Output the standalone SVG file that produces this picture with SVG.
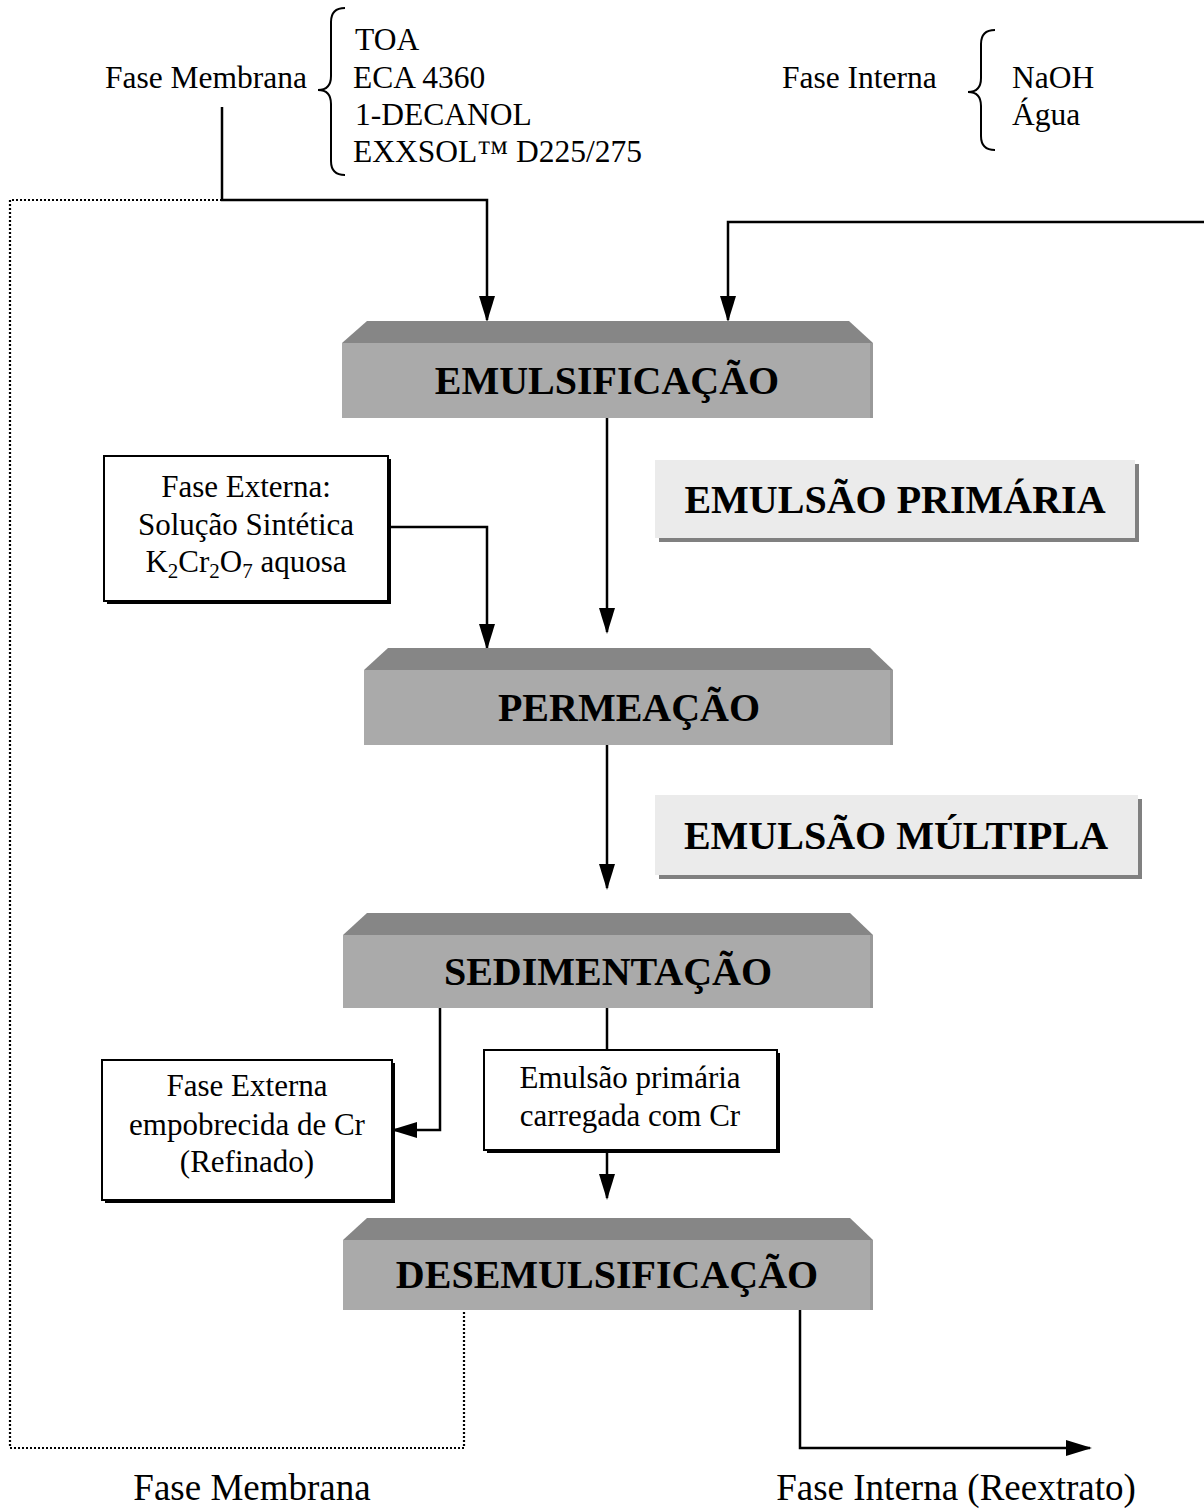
<svg xmlns="http://www.w3.org/2000/svg" width="1204" height="1511" viewBox="0 0 1204 1511">
<defs>
<style>
.t{font-family:"Liberation Serif","Times New Roman",serif;font-size:31.5px;fill:#000}
.tc{font-family:"Liberation Serif","Times New Roman",serif;font-size:31px;fill:#000;text-anchor:middle}
.tb{font-family:"Liberation Serif","Times New Roman",serif;font-size:40px;font-weight:bold;fill:#000;text-anchor:middle}
.tl{font-family:"Liberation Serif","Times New Roman",serif;font-size:37px;fill:#000;text-anchor:middle}
.ln{fill:none;stroke:#000;stroke-width:2.5}
.dot{fill:none;stroke:#000;stroke-width:2.2;stroke-dasharray:2,2}
.br{fill:none;stroke:#000;stroke-width:2}
.top{fill:#868686}
.front{fill:#aaaaaa}
.edge{fill:#999999}
.lab{fill:#ebebeb}
.shd{fill:#808080}
.box{fill:#fff;stroke:#000;stroke-width:2}
</style>
<marker id="ah" markerWidth="26" markerHeight="16" refX="24" refY="8" orient="auto" markerUnits="userSpaceOnUse">
<path d="M0,0 L26,8 L0,16 z" fill="#000"/>
</marker>
</defs>
<rect width="1204" height="1511" fill="#fff"/>

<g id="fase-membrana-top">
<text class="t" x="105" y="88">Fase Membrana</text>
<path class="br" d="M345,8 Q331,8 331,22 L331,76 Q331,90 318,90 Q331,90 331,104 L331,161 Q331,175 345,175"/>
<text class="t" x="355" y="50">TOA</text>
<text class="t" x="353" y="88">ECA 4360</text>
<text class="t" x="355" y="125">1-DECANOL</text>
<text class="t" x="353" y="162">EXXSOL™ D225/275</text>
</g>

<g id="fase-interna-top">
<text class="t" x="782" y="88">Fase Interna</text>
<path class="br" d="M995,30 Q981,30 981,44 L981,78 Q981,92 968,92 Q981,92 981,106 L981,136 Q981,150 995,150"/>
<text class="t" x="1012" y="88">NaOH</text>
<text class="t" x="1012" y="125">Água</text>
</g>

<g id="connectors">
<path class="ln" d="M222,107 L222,200 L487,200 L487,320" marker-end="url(#ah)"/>
<path class="dot" d="M222,200 L10,200 L10,1448 L464,1448 L464,1310"/>
<path class="ln" d="M1204,222 L728,222 L728,320" marker-end="url(#ah)"/>
<path class="ln" d="M607,418 L607,632" marker-end="url(#ah)"/>
<path class="ln" d="M388,527 L487,527 L487,648" marker-end="url(#ah)"/>
<path class="ln" d="M607,745 L607,888" marker-end="url(#ah)"/>
<path class="ln" d="M440,1008 L440,1130 L393,1130" marker-end="url(#ah)"/>
<path class="ln" d="M607,1008 L607,1050"/>
<path class="ln" d="M607,1150 L607,1198" marker-end="url(#ah)"/>
<path class="ln" d="M800,1310 L800,1448 L1090,1448" marker-end="url(#ah)"/>
</g>

<g id="emulsificacao">
<polygon class="top" points="367,321 849,321 873,343 342,343"/>
<rect class="front" x="342" y="343" width="531" height="75"/>
<rect class="edge" x="870" y="343" width="3" height="75"/>
<text class="tb" x="607" y="394">EMULSIFICAÇÃO</text>
</g>

<g id="emulsao-primaria">
<rect class="shd" x="659" y="464" width="480" height="78"/>
<rect class="lab" x="655" y="460" width="480" height="78"/>
<text class="tb" x="895" y="513">EMULSÃO PRIMÁRIA</text>
</g>

<g id="fase-externa">
<rect x="107" y="459" width="284" height="145" fill="#000"/>
<rect class="box" x="104" y="456" width="284" height="145"/>
<text class="tc" x="246" y="497">Fase Externa:</text>
<text class="tc" x="246" y="535">Solução Sintética</text>
<text class="tc" x="246" y="572">K<tspan font-size="21" dy="6">2</tspan><tspan dy="-6">Cr</tspan><tspan font-size="21" dy="6">2</tspan><tspan dy="-6">O</tspan><tspan font-size="21" dy="6">7</tspan><tspan dy="-6"> aquosa</tspan></text>
</g>

<g id="permeacao">
<polygon class="top" points="388,648 870,648 893,670 364,670"/>
<rect class="front" x="364" y="670" width="529" height="75"/>
<rect class="edge" x="890" y="670" width="3" height="75"/>
<text class="tb" x="629" y="721">PERMEAÇÃO</text>
</g>

<g id="emulsao-multipla">
<rect class="shd" x="659" y="799" width="483" height="80"/>
<rect class="lab" x="655" y="795" width="483" height="80"/>
<text class="tb" x="896" y="849">EMULSÃO MÚLTIPLA</text>
</g>

<g id="sedimentacao">
<polygon class="top" points="367,913 850,913 873,935 343,935"/>
<rect class="front" x="343" y="935" width="530" height="73"/>
<rect class="edge" x="870" y="935" width="3" height="73"/>
<text class="tb" x="608" y="985">SEDIMENTAÇÃO</text>
</g>

<g id="fase-externa-empobrecida">
<rect x="105" y="1063" width="290" height="140" fill="#000"/>
<rect class="box" x="102" y="1060" width="290" height="140"/>
<text class="tc" x="247" y="1096">Fase Externa</text>
<text class="tc" x="247" y="1135">empobrecida de Cr</text>
<text class="tc" x="247" y="1172">(Refinado)</text>
</g>

<g id="emulsao-carregada">
<rect x="487" y="1053" width="293" height="100" fill="#000"/>
<rect class="box" x="484" y="1050" width="293" height="100"/>
<text class="tc" x="630" y="1088">Emulsão primária</text>
<text class="tc" x="630" y="1126">carregada com Cr</text>
</g>

<g id="desemulsificacao">
<polygon class="top" points="367,1218 850,1218 873,1240 343,1240"/>
<rect class="front" x="343" y="1240" width="530" height="70"/>
<rect class="edge" x="870" y="1240" width="3" height="70"/>
<text class="tb" x="607" y="1288">DESEMULSIFICAÇÃO</text>
</g>

<g id="saidas">
<text class="tl" x="252" y="1500">Fase Membrana</text>
<text class="tl" x="956" y="1500">Fase Interna (Reextrato)</text>
</g>
</svg>
